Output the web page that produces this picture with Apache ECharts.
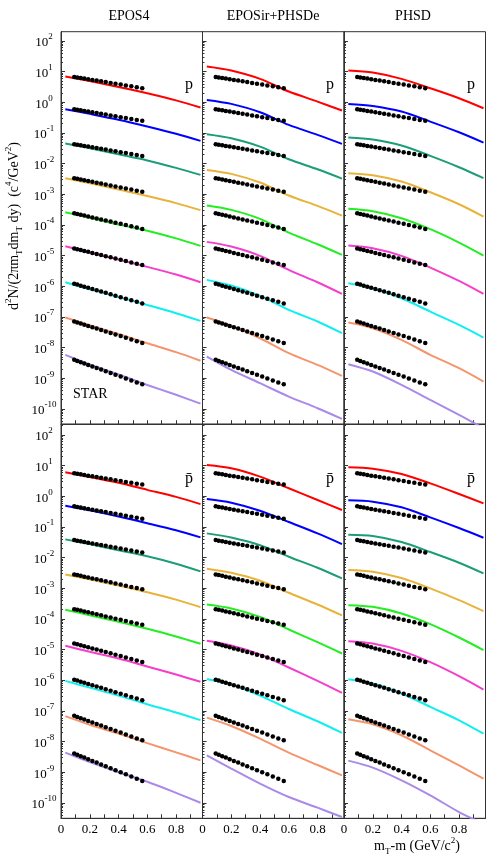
<!DOCTYPE html>
<html>
<head>
<meta charset="utf-8">
<script src="https://cdn.jsdelivr.net/npm/echarts@6/dist/echarts.min.js"></script>
<style>
html, body { margin: 0; padding: 0; background: #fff; }
#chart { width: 499px; height: 861px; }
</style>
</head>
<body>
<div id="chart"></div>
<script>
// column / row names
const models = ['EPOS4', 'EPOSir+PHSDe', 'PHSD']
const particles = ['p', 'p\u0304']
const colors = ['#ff0000', '#0000ff', '#1b9e77', '#e8b33a', '#22ee22', '#f53ecb', '#11eeee', '#f5956d', '#a98ae9']

// x of STAR points and of the model curves (mT - m, GeV/c^2)
const starX = [0.092, 0.113, 0.137, 0.162, 0.189, 0.218, 0.248, 0.279, 0.311, 0.345, 0.379, 0.415, 0.451, 0.489, 0.527, 0.565]
const modelX = [0.03, 0.2, 0.4, 0.6, 0.8, 0.97]

// STAR data, one row per centrality (already scaled)
const starP = [
  [6.70, 6.46, 6.18, 5.91, 5.62, 5.33, 5.07, 4.79, 4.53, 4.26, 4.01, 3.76, 3.52, 3.29, 3.07, 2.87],
  [0.593, 0.570, 0.546, 0.521, 0.495, 0.469, 0.444, 0.419, 0.395, 0.371, 0.348, 0.326, 0.305, 0.284, 0.264, 0.247],
  [0.0429, 0.0412, 0.0394, 0.0376, 0.0357, 0.0339, 0.0321, 0.0303, 0.0285, 0.0268, 0.0251, 0.0235, 0.0220, 0.0205, 0.0191, 0.0178],
  [3.33e-3, 3.19e-3, 3.03e-3, 2.86e-3, 2.70e-3, 2.54e-3, 2.38e-3, 2.23e-3, 2.08e-3, 1.93e-3, 1.79e-3, 1.66e-3, 1.54e-3, 1.42e-3, 1.30e-3, 1.20e-3],
  [2.40e-4, 2.28e-4, 2.15e-4, 2.02e-4, 1.88e-4, 1.75e-4, 1.63e-4, 1.51e-4, 1.39e-4, 1.28e-4, 1.17e-4, 1.08e-4, 9.84e-5, 8.95e-5, 8.15e-5, 7.41e-5],
  [1.70e-5, 1.61e-5, 1.51e-5, 1.41e-5, 1.32e-5, 1.22e-5, 1.13e-5, 1.04e-5, 9.55e-6, 8.73e-6, 7.98e-6, 7.26e-6, 6.61e-6, 5.98e-6, 5.41e-6, 4.90e-6],
  [1.20e-6, 1.13e-6, 1.04e-6, 9.66e-7, 8.87e-7, 8.09e-7, 7.40e-7, 6.71e-7, 6.08e-7, 5.47e-7, 4.92e-7, 4.40e-7, 3.93e-7, 3.49e-7, 3.10e-7, 2.75e-7],
  [7.08e-8, 6.59e-8, 6.07e-8, 5.57e-8, 5.08e-8, 4.59e-8, 4.16e-8, 3.74e-8, 3.36e-8, 2.99e-8, 2.66e-8, 2.36e-8, 2.08e-8, 1.83e-8, 1.61e-8, 1.41e-8],
  [3.98e-9, 3.67e-9, 3.34e-9, 3.03e-9, 2.72e-9, 2.43e-9, 2.17e-9, 1.92e-9, 1.70e-9, 1.49e-9, 1.30e-9, 1.13e-9, 9.84e-10, 8.49e-10, 7.31e-10, 6.31e-10]
]
const starPbar = [
  [5.61, 5.41, 5.18, 4.94, 4.71, 4.47, 4.24, 4.01, 3.78, 3.56, 3.35, 3.14, 2.94, 2.75, 2.56, 2.40],
  [0.469, 0.450, 0.430, 0.409, 0.387, 0.366, 0.346, 0.325, 0.305, 0.286, 0.268, 0.249, 0.233, 0.216, 0.200, 0.186],
  [0.0372, 0.0356, 0.0340, 0.0324, 0.0308, 0.0290, 0.0274, 0.0258, 0.0243, 0.0227, 0.0212, 0.0198, 0.0185, 0.0171, 0.0159, 0.0148],
  [2.82e-3, 2.69e-3, 2.54e-3, 2.39e-3, 2.24e-3, 2.09e-3, 1.96e-3, 1.82e-3, 1.69e-3, 1.56e-3, 1.44e-3, 1.32e-3, 1.22e-3, 1.11e-3, 1.02e-3, 9.33e-4],
  [2.09e-4, 1.99e-4, 1.87e-4, 1.76e-4, 1.64e-4, 1.52e-4, 1.42e-4, 1.31e-4, 1.21e-4, 1.11e-4, 1.02e-4, 9.38e-5, 8.57e-5, 7.80e-5, 7.10e-5, 6.46e-5],
  [1.58e-5, 1.49e-5, 1.39e-5, 1.29e-5, 1.19e-5, 1.09e-5, 1.00e-5, 9.16e-6, 8.36e-6, 7.57e-6, 6.85e-6, 6.17e-6, 5.56e-6, 4.98e-6, 4.45e-6, 3.98e-6],
  [1.05e-6, 9.79e-7, 9.04e-7, 8.34e-7, 7.62e-7, 6.92e-7, 6.30e-7, 5.69e-7, 5.13e-7, 4.59e-7, 4.10e-7, 3.65e-7, 3.24e-7, 2.87e-7, 2.54e-7, 2.24e-7],
  [6.92e-8, 6.38e-8, 5.81e-8, 5.27e-8, 4.73e-8, 4.23e-8, 3.77e-8, 3.33e-8, 2.95e-8, 2.58e-8, 2.26e-8, 1.97e-8, 1.71e-8, 1.48e-8, 1.27e-8, 1.10e-8],
  [4.07e-9, 3.72e-9, 3.35e-9, 3.01e-9, 2.67e-9, 2.35e-9, 2.07e-9, 1.81e-9, 1.58e-9, 1.36e-9, 1.17e-9, 1.00e-9, 8.59e-10, 7.29e-10, 6.18e-10, 5.25e-10]
]

// model curves at modelX, one row per centrality
const epos4P = [
  [6.92, 4.90, 3.16, 1.95, 1.15, 0.676],
  [0.592, 0.417, 0.269, 0.162, 0.0933, 0.0548],
  [0.0449, 0.0316, 0.0200, 0.0126, 7.24e-3, 4.27e-3],
  [3.33e-3, 2.29e-3, 1.41e-3, 8.71e-4, 5.13e-4, 3.02e-4],
  [2.59e-4, 1.70e-4, 1.02e-4, 6.46e-5, 3.63e-5, 2.07e-5],
  [2.01e-5, 1.26e-5, 7.41e-6, 4.27e-6, 2.40e-6, 1.35e-6],
  [1.35e-6, 7.94e-7, 4.47e-7, 2.45e-7, 1.32e-7, 7.41e-8],
  [9.55e-8, 5.37e-8, 2.75e-8, 1.38e-8, 7.08e-9, 3.72e-9],
  [5.75e-9, 2.82e-9, 1.32e-9, 6.03e-10, 2.88e-10, 1.48e-10]
]
const eposirP = [
  [14.6, 10.8, 5.77, 2.23, 1.05, 0.535],
  [1.19, 0.883, 0.472, 0.182, 0.0861, 0.0438],
  [0.0906, 0.0670, 0.0358, 0.0138, 6.53e-3, 3.24e-3],
  [6.21e-3, 4.60e-3, 2.40e-3, 9.06e-4, 4.17e-4, 2.01e-4],
  [4.27e-4, 3.08e-4, 1.57e-4, 5.62e-5, 2.34e-5, 1.05e-5],
  [2.79e-5, 1.96e-5, 9.75e-6, 3.41e-6, 1.35e-6, 5.62e-7],
  [1.61e-6, 1.05e-6, 4.84e-7, 1.69e-7, 7.05e-8, 2.93e-8],
  [9.51e-8, 5.09e-8, 2.01e-8, 6.53e-9, 2.72e-9, 1.19e-9],
  [5.09e-9, 1.87e-9, 6.87e-10, 2.52e-10, 1.05e-10, 4.72e-11]
]
const phsdP = [
  [10.8, 9.27, 5.77, 2.86, 1.35, 0.637],
  [0.883, 0.759, 0.497, 0.234, 0.105, 0.0484],
  [0.0705, 0.0607, 0.0386, 0.0178, 7.59e-3, 3.33e-3],
  [4.84e-3, 4.17e-3, 2.59e-3, 1.16e-3, 4.72e-4, 1.87e-4],
  [3.33e-4, 2.79e-4, 1.65e-4, 7.23e-5, 2.65e-5, 1.00e-5],
  [2.12e-5, 1.73e-5, 9.75e-6, 4.06e-6, 1.49e-6, 5.62e-7],
  [1.25e-6, 8.61e-7, 4.06e-7, 1.49e-7, 5.48e-8, 2.12e-8],
  [6.53e-8, 4.27e-8, 1.78e-8, 5.77e-9, 2.12e-9, 7.78e-10],
  [2.86e-9, 1.65e-9, 6.07e-10, 1.96e-10, 6.37e-11, 2.34e-11]
]
const epos4Pbar = [
  [6.03, 4.27, 2.75, 1.62, 0.955, 0.556],
  [0.493, 0.347, 0.219, 0.132, 0.0776, 0.0457],
  [0.0393, 0.0275, 0.0174, 0.0110, 6.31e-3, 3.55e-3],
  [2.82e-3, 1.95e-3, 1.23e-3, 7.41e-4, 4.27e-4, 2.43e-4],
  [2.00e-4, 1.32e-4, 8.13e-5, 4.79e-5, 2.69e-5, 1.55e-5],
  [1.33e-5, 8.51e-6, 5.13e-6, 2.82e-6, 1.55e-6, 8.91e-7],
  [9.55e-7, 5.75e-7, 3.16e-7, 1.66e-7, 8.91e-8, 5.01e-8],
  [6.76e-8, 3.55e-8, 1.82e-8, 8.91e-9, 4.47e-9, 2.45e-9],
  [4.37e-9, 2.14e-9, 1.00e-9, 4.90e-10, 2.14e-10, 1.02e-10]
]
const eposirPbar = [
  [10.5, 8.17, 4.37, 1.82, 0.755, 0.356],
  [0.815, 0.618, 0.339, 0.145, 0.0617, 0.0277],
  [0.0617, 0.0456, 0.0256, 0.0107, 4.67e-3, 2.09e-3],
  [4.34e-3, 3.21e-3, 1.76e-3, 7.13e-4, 2.96e-4, 1.30e-4],
  [2.96e-4, 2.20e-4, 1.17e-4, 4.53e-5, 1.75e-5, 7.46e-6],
  [1.93e-5, 1.36e-5, 6.92e-6, 2.61e-6, 9.55e-7, 3.88e-7],
  [1.11e-6, 7.26e-7, 3.18e-7, 1.16e-7, 4.61e-8, 1.92e-8],
  [6.07e-8, 3.24e-8, 1.25e-8, 4.38e-9, 1.73e-9, 7.96e-10],
  [3.58e-9, 1.32e-9, 4.26e-10, 1.56e-10, 7.02e-11, 3.48e-11]
]
const phsdPbar = [
  [8.79, 7.96, 5.33, 2.64, 1.19, 0.587],
  [0.736, 0.667, 0.436, 0.205, 0.0920, 0.0446],
  [0.0557, 0.0505, 0.0321, 0.0152, 6.81e-3, 3.05e-3],
  [3.92e-3, 3.46e-3, 2.15e-3, 9.89e-4, 4.11e-4, 1.80e-4],
  [2.82e-4, 2.49e-4, 1.51e-4, 6.76e-5, 2.48e-5, 9.57e-6],
  [1.88e-5, 1.58e-5, 9.12e-6, 3.89e-6, 1.36e-6, 4.98e-7],
  [1.08e-6, 7.82e-7, 3.69e-7, 1.36e-7, 4.97e-8, 1.82e-8],
  [5.36e-8, 3.68e-8, 1.61e-8, 5.21e-9, 1.69e-9, 6.19e-10],
  [2.40e-9, 1.42e-9, 5.47e-10, 1.77e-10, 5.06e-11, 2.10e-11]
]

// tick labels
const xTickLabels = [0, 0.2, 0.4, 0.6, 0.8]
const yDecades = [-10, -9, -8, -7, -6, -5, -4, -3, -2, -1, 0, 1, 2]

const panels = [
  [epos4P, eposirP, phsdP],
  [epos4Pbar, eposirPbar, phsdPbar]
]
const stars = [starP, starPbar]

const FONT = '"Liberation Serif", "DejaVu Serif", serif'
const AXIS_COLOR = '#333333'
const colLeft = [61, 202.5, 344]
const colWidth = 141.5
const rowTop = [31.7, 424.2]
const rowHeight = [392.5, 394.1]
const yMax = [2.3, 2.35]
const yMin = -10.5
const xMax = 0.984

const xMinorTicks = [0.1, 0.2, 0.3, 0.4, 0.5, 0.6, 0.7, 0.8, 0.9]
const yMinorTicks = []
for (let n = -11; n <= 2; n++) {
  for (let k = 2; k <= 9; k++) {
    const v = n + Math.log10(k)
    if (v > yMin && v < 2.35) yMinorTicks.push(v)
  }
}

const grid = []
const xAxis = []
const yAxis = []
const series = []

for (let r = 0; r < 2; r++) {
  for (let c = 0; c < 3; c++) {
    const i = r * 3 + c
    grid.push({
      left: colLeft[c],
      top: rowTop[r],
      width: colWidth,
      height: rowHeight[r],
      show: true,
      borderColor: AXIS_COLOR,
      borderWidth: 1
    })
    xAxis.push({
      gridIndex: i,
      type: 'value',
      min: 0,
      max: xMax,
      position: 'bottom',
      axisLine: { show: true, onZero: false, lineStyle: { color: AXIS_COLOR, width: 1 }},
      axisTick: { inside: true, length: 4, customValues: xMinorTicks, lineStyle: { color: AXIS_COLOR }},
      axisLabel: {
        show: r === 1,
        customValues: xTickLabels,
        margin: 5,
        color: '#000',
        fontFamily: FONT,
        fontSize: 13,
        formatter: v => String(v)
      },
      splitLine: { show: false }
    })
    // major decades
    yAxis.push({
      gridIndex: i,
      type: 'value',
      min: yMin,
      max: yMax[r],
      position: 'left',
      axisLine: { show: true, onZero: false, lineStyle: { color: AXIS_COLOR, width: 1 }},
      axisTick: { inside: true, length: 4, customValues: yDecades, lineStyle: { color: AXIS_COLOR }},
      axisLabel: {
        show: c === 0,
        customValues: yDecades,
        align: 'center',
        margin: 17,
        formatter: v => '{b|10}{s|' + v + '}',
        rich: {
          b: { fontFamily: FONT, fontSize: 13, color: '#000', lineHeight: 17, verticalAlign: 'bottom' },
          s: { fontFamily: FONT, fontSize: 9, color: '#000', lineHeight: 17, verticalAlign: 'top' }
        }
      },
      splitLine: { show: false }
    })
    // minor ticks 2..9 of each decade
    yAxis.push({
      gridIndex: i,
      type: 'value',
      min: yMin,
      max: yMax[r],
      position: 'left',
      axisLine: { show: false, onZero: false },
      axisTick: { inside: true, length: 2, customValues: yMinorTicks, lineStyle: { color: AXIS_COLOR }},
      axisLabel: { show: false, customValues: yMinorTicks },
      splitLine: { show: false }
    })

    const model = panels[r][c]
    model.forEach((vals, k) => {
      series.push({
        type: 'line',
        xAxisIndex: i,
        yAxisIndex: i * 2,
        data: modelX.map((x, j) => [x, Math.log10(vals[j])]),
        showSymbol: false,
        smooth: 0.3,
        clip: true,
        silent: true,
        lineStyle: { color: colors[k], width: 2 },
        z: 2
      })
    })
    stars[r].forEach(vals => {
      series.push({
        type: 'scatter',
        xAxisIndex: i,
        yAxisIndex: i * 2,
        data: starX.map((x, j) => [x, Math.log10(vals[j])]),
        symbol: 'circle',
        symbolSize: 4.5,
        silent: true,
        itemStyle: { color: '#000', opacity: 1 },
        z: 5
      })
    })
  }
}

const graphic = []
const titleX = [129, 273, 413]
models.forEach((m, c) => {
  graphic.push({
    type: 'text', x: titleX[c], y: 16,
    style: { text: m, font: '14px ' + FONT, fill: '#000', align: 'center', verticalAlign: 'middle' }
  })
})
const labelX = [189, 330, 471]
const labelY = [85, 479]
for (let r = 0; r < 2; r++) {
  for (let c = 0; c < 3; c++) {
    graphic.push({
      type: 'text', x: labelX[c], y: labelY[r],
      style: { text: particles[r], font: '16px ' + FONT, fill: '#000', align: 'center', verticalAlign: 'middle' }
    })
  }
}
graphic.push({
  type: 'text', x: 73, y: 394,
  style: { text: 'STAR', font: '14px ' + FONT, fill: '#000', align: 'left', verticalAlign: 'middle' }
})
const richTitle = {
  n: { fontFamily: FONT, fontSize: 14, fill: '#000', lineHeight: 20, verticalAlign: 'middle' },
  s: { fontFamily: FONT, fontSize: 9, fill: '#000', lineHeight: 20, verticalAlign: 'top' },
  u: { fontFamily: FONT, fontSize: 9, fill: '#000', lineHeight: 20, verticalAlign: 'bottom' }
}
graphic.push({
  type: 'text', x: 14, y: 226, rotation: Math.PI / 2,
  style: {
    text: '{n|d}{s|2}{n|N/(2\u03c0m}{u|T}{n|dm}{u|T}{n| dy)  (c}{s|4}{n|/GeV}{s|2}{n|)}',
    rich: richTitle, align: 'center', verticalAlign: 'middle'
  }
})
graphic.push({
  type: 'text', x: 417, y: 846,
  style: {
    text: '{n|m}{u|T}{n|-m (GeV/c}{s|2}{n|)}',
    rich: richTitle, align: 'center', verticalAlign: 'middle'
  }
})

const chart = echarts.init(document.getElementById('chart'))
chart.setOption({
  backgroundColor: '#ffffff',
  animation: false,
  grid,
  xAxis,
  yAxis,
  series,
  graphic
})
</script>
</body>
</html>
